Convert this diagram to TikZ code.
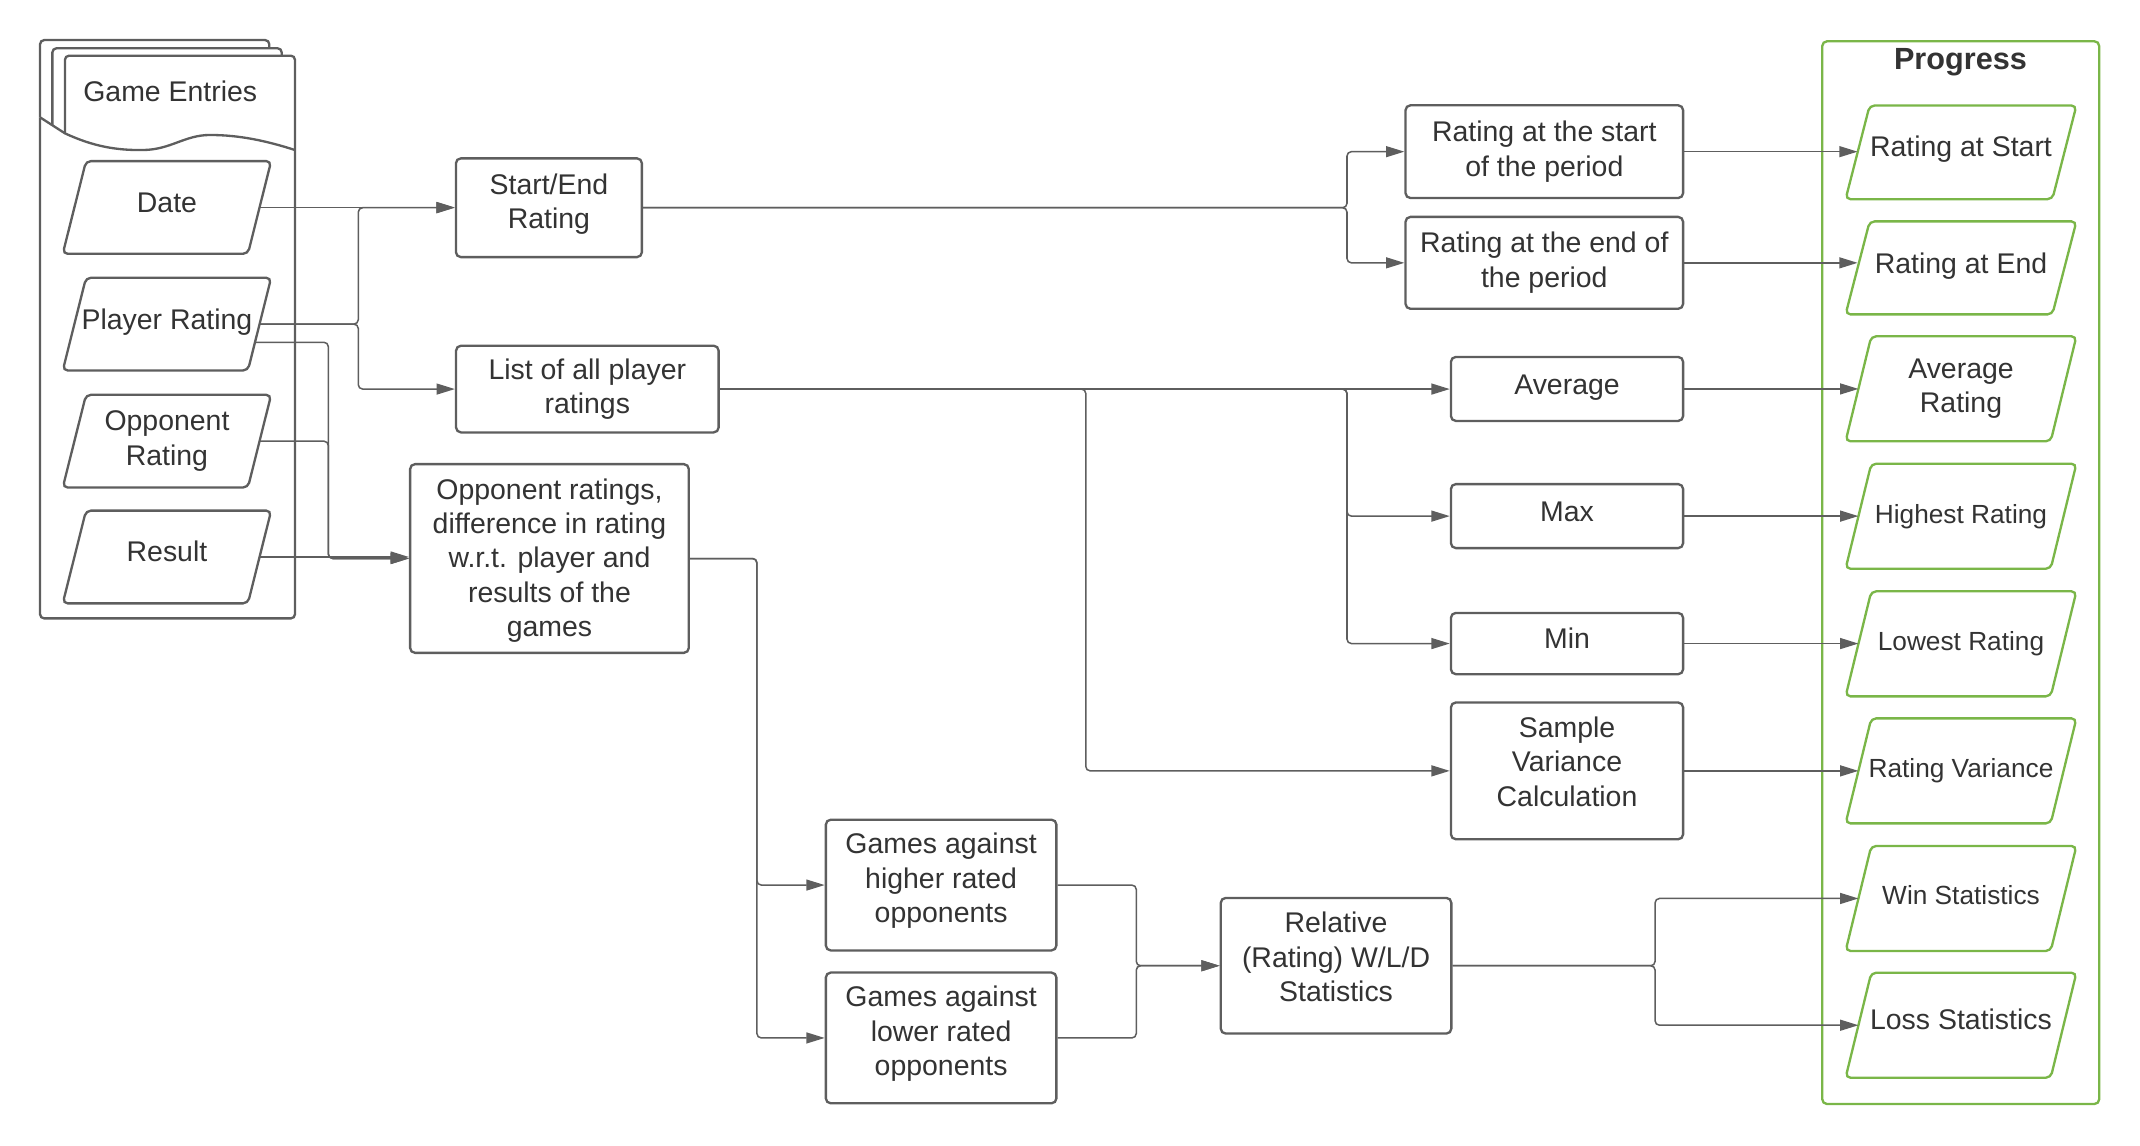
\documentclass[tikz,border=0pt]{standalone}
\usepackage{fontspec}
\setmainfont{Liberation Sans}
\usetikzlibrary{arrows.meta}
\definecolor{lgray}{HTML}{5E5E5E}
\definecolor{txt}{HTML}{333333}
\definecolor{lgreen}{HTML}{7AB648}
\newcommand\myfont{\fontsize{10.4}{12.6}\selectfont}
\newcommand\mysmall{\fontsize{9.6}{11.6}\selectfont}
\tikzset{
  box/.style={draw=lgray, line width=0.85pt, rounded corners=1.8pt, fill=white, text=txt, align=center, font=\myfont, inner sep=0pt},
  pgram/.style 2 args={rectangle, inner sep=0pt, text=txt, align=center, font=\myfont,
    append after command={\pgfextra{\let\pgmnode\tikzlastnode
      \draw[line width=0.85pt, rounded corners=1.8pt, draw=#1]
        ([xshift=#2]\pgmnode.north west) -- ([xshift=#2]\pgmnode.north east) --
        ([xshift=-#2]\pgmnode.south east) -- ([xshift=-#2]\pgmnode.south west) -- cycle;}}},
  lpara/.style={pgram={lgray}{4.25pt}, minimum width=67.3pt, minimum height=33.5pt},
  gpara/.style={pgram={lgreen}{4.7pt}, minimum width=74.6pt, minimum height=38pt},
  gparas/.style={pgram={lgreen}{4.4pt}, minimum width=75.2pt},
  small/.style={font=\mysmall},
  conn/.style={draw=lgray, line width=0.55pt, rounded corners=1.6pt},
  arr/.style={conn, -{Triangle[length=6.7pt,width=4pt]}},
  stack/.style={draw=lgray, line width=0.85pt, rounded corners=1.5pt},
  lbl/.style={text=txt, font=\myfont, inner sep=0pt}
}
\begin{document}
\begin{tikzpicture}[x=0.5pt, y=-0.5pt]
\useasboundingbox (0,0) rectangle (1564.9,837.3);

% ---------- Game Entries stack ----------
\draw[stack] (29.3,85.8) -- (29.3,29.3) -- (196.9,29.3) -- (196.9,35.3);
\draw[stack] (38.3,92.1) -- (38.3,35.3) -- (206,35.3) -- (206,40.7);
\draw[stack] (29.3,85.8) -- (29.3,452.2) -- (215.7,452.2) -- (215.7,40.7) -- (47.5,40.7) -- (47.5,97.5);
\draw[stack, rounded corners=0pt] (29.3,85.8) -- (47.5,97.5)
  .. controls (68,107) and (85,110) .. (104.8,109.7)
  .. controls (125,109.4) and (135,98.7) .. (153.6,98.7)
  .. controls (175,98.7) and (195,103) .. (215.7,109.7);
\node[lbl] (ge) at (124.5,67) {Game Entries};

\node[lpara, text depth=3.5pt] (date) at (122.1,151.7) {Date};
\node[lpara, text depth=3.7pt] (pr)   at (122.1,237)   {Player Rating};
\node[lpara] (orat) at (122.1,322.6) {Opponent\\Rating};
\node[lpara, text depth=4pt] (res)  at (122.1,407.3) {Result};

% ---------- middle boxes ----------
\node[box, minimum width=68pt,  minimum height=36.1pt, text depth=4.8pt] (se)   at (401.4,151.9) {Start/End\\Rating};
\node[box, minimum width=96pt,  minimum height=31.7pt] (list) at (429.5,284.5) {List of all player\\ratings};
\node[box, minimum width=101.9pt, minimum height=69pt, text depth=0.6pt] (opp)  at (401.8,408.4) {Opponent ratings,\\difference in rating\\w.r.t. player and\\results of the\\games};

\node[box, minimum width=101.5pt, minimum height=33.9pt] (rsb) at (1129.3,110.9) {Rating at the start\\of the period};
\node[box, minimum width=101.5pt, minimum height=33.6pt] (reb) at (1129.3,192.2) {Rating at the end of\\the period};
\node[box, minimum width=84.9pt, minimum height=23.4pt, text depth=3.2pt] (avg) at (1145.9,284.4) {Average};
\node[box, minimum width=84.9pt, minimum height=23.4pt, text depth=3pt] (max) at (1145.9,377.4) {Max};
\node[box, minimum width=84.9pt, minimum height=22.4pt, text depth=4pt] (min) at (1145.9,470.6) {Min};
\node[box, minimum width=84.9pt, minimum height=50pt, text depth=7pt]   (sv)  at (1145.9,563.7) {Sample\\Variance\\Calculation};

\node[box, minimum width=84.3pt, minimum height=47.8pt, text depth=5.2pt] (gh)  at (688.2,647.2) {Games against\\higher rated\\opponents};
\node[box, minimum width=84.3pt, minimum height=47.8pt, text depth=5.2pt] (gl)  at (688.2,759)   {Games against\\lower rated\\opponents};
\node[box, minimum width=84.3pt, minimum height=49.6pt, text depth=6.4pt] (rel) at (977,706.2)   {Relative\\(Rating) W/L/D\\Statistics};

% ---------- Progress container ----------
\node[draw=lgreen, line width=0.85pt, rounded corners=1.8pt, minimum width=101.3pt, minimum height=388.6pt, inner sep=0pt] (prog) at (1433.8,418.75) {};
\node[text=txt, font=\fontsize{11.2}{13}\selectfont\bfseries, inner sep=0pt] (progt) at (1433.6,45.3) {Progress};

\node[gparas, minimum height=33.85pt, text depth=4.2pt] (rs) at (1434,111.4) {Rating at Start};
\node[gparas, minimum height=33.6pt, text depth=3.7pt]  (re) at (1434,195.9) {Rating at End};
\node[gpara] (ar) at (1434,284.3) {Average\\Rating};
\node[gpara, small] (hr) at (1434,377.5) {Highest Rating};
\node[gpara, small] (lr) at (1434,470.8) {Lowest Rating};
\node[gpara, small] (rv) at (1434,563.7) {Rating Variance};
\node[gpara, small, text depth=2.2pt] (ws) at (1434,657)   {Win Statistics};
\node[gpara, text depth=4.7pt] (ls) at (1434,749.7) {Loss Statistics};

% ---------- junction coordinates ----------
\coordinate (j1) at (262,0);
\coordinate (j2) at (240.1,0);
\coordinate (j3) at (985,0);
\coordinate (j4) at (794,0);
\coordinate (j5) at (553.5,0);
\coordinate (j6) at (830.9,0);
\coordinate (j7) at (1210.3,0);
\coordinate (p2) at ([xshift=-1.7pt, yshift=-6.65pt]pr.east);

% ---------- connectors ----------
\draw[arr] (date.east) -- (date.east -| se.west);
\draw[arr] (pr.east) -- (pr.east -| j1) |- (se.west);
\draw[arr] (pr.east) -- (pr.east -| j1) |- (list.west);
\draw[arr] (p2) -- (p2 -| j2) |- (opp.west);
\draw[arr] (orat.east) -- (orat.east -| j2) |- (opp.west);
\draw[arr] (res.east) -- (res.east -| opp.west);

\draw[arr] (se.east) -- (se.east -| j3) |- (rsb.west);
\draw[arr] (se.east) -- (se.east -| j3) |- (reb.west);
\draw[arr] (rsb.east) -- (rsb.east -| rs.west);
\draw[arr] (reb.east) -- (reb.east -| re.west);

\draw[arr] (list.east) -- (list.east -| avg.west);
\draw[arr] (list.east) -- (list.east -| j3) |- (max.west);
\draw[arr] (list.east) -- (list.east -| j3) |- (min.west);
\draw[arr] (list.east) -- (list.east -| j4) |- (sv.west);
\draw[arr] (avg.east) -- (avg.east -| ar.west);
\draw[arr] (max.east) -- (max.east -| hr.west);
\draw[arr] (min.east) -- (min.east -| lr.west);
\draw[arr] (sv.east) -- (sv.east -| rv.west);

\draw[arr] (opp.east) -- (opp.east -| j5) |- (gh.west);
\draw[arr] (opp.east) -- (opp.east -| j5) |- (gl.west);
\draw[arr] (gh.east) -- (gh.east -| j6) |- (rel.west);
\draw[arr] (gl.east) -- (gl.east -| j6) |- (rel.west);
\draw[arr] (rel.east) -- (rel.east -| j7) |- (ws.west);
\draw[arr] (rel.east) -- (rel.east -| j7) |- (ls.west);
\end{tikzpicture}
\end{document}
